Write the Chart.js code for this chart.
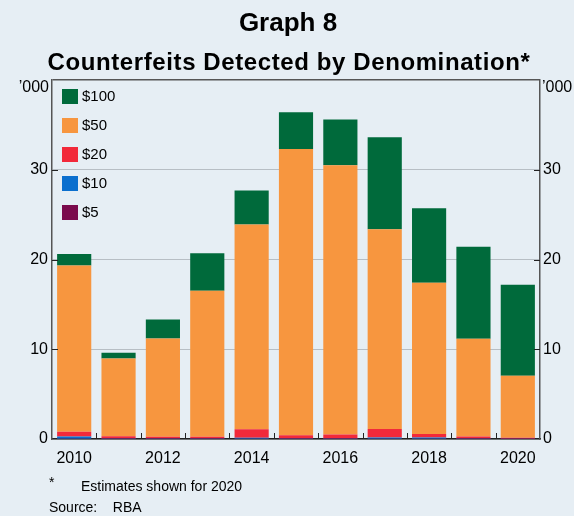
<!DOCTYPE html>
<html>
<head>
<meta charset="utf-8">
<script src="https://cdn.jsdelivr.net/npm/chart.js@4"></script>
<style>
  html, body { margin: 0; padding: 0; background: #e6eef4; }
  #wrap { position: relative; width: 574px; height: 516px; font-family: "Liberation Sans", Arial, sans-serif; color: #000; }
  #chart { position: absolute; left: 0; top: 0; }
  .title { position: absolute; left: 0; width: 574px; text-align: center; font-weight: bold; white-space: nowrap; }
  #t1 { top: 7px; font-size: 26px; left: 1px; }
  #t2 { top: 48px; font-size: 24px; left: 2px; letter-spacing: 0.6px; }
  .note { position: absolute; font-size: 14px; }
</style>
</head>
<body>
<div id="wrap">
  <canvas id="chart" width="574" height="516"></canvas>
  <div class="title" id="t1">Graph 8</div>
  <div class="title" id="t2">Counterfeits Detected by Denomination*</div>
  <div class="note" style="left:49px; top:474px;">*</div>
  <div class="note" style="left:81px; top:478px;">Estimates shown for 2020</div>
  <div class="note" style="left:49px; top:499px;">Source:&nbsp;&nbsp;&nbsp; RBA</div>
</div>
<script>
// thousands of counterfeits
const years = ['2010', '2011', '2012', '2013', '2014', '2015', '2016', '2017', '2018', '2019', '2020'];
const note5 = [0.02, 0.01, 0.01, 0.01, 0.02, 0.01, 0.01, 0.02, 0.02, 0.01, 0.01];
const note10 = [0.25, 0.05, 0.05, 0.05, 0.12, 0.05, 0.05, 0.15, 0.15, 0.05, 0.03];
const note20 = [0.55, 0.25, 0.2, 0.2, 0.95, 0.35, 0.45, 0.95, 0.4, 0.22, 0.1];
const note50 = [18.5, 8.65, 10.95, 16.25, 22.8, 31.9, 30.0, 22.25, 16.85, 10.9, 6.9];
const note100 = [1.3, 0.65, 2.1, 4.2, 3.8, 4.1, 5.1, 10.25, 8.3, 10.25, 10.15];
const yTicks = [0, 10, 20, 30, 40];
const unitLabel = '\u2019000';

const colors = {
  n100: '#006a3b',
  n50: '#f7963f',
  n20: '#f2293a',
  n10: '#0b6fce',
  n5: '#7a0a4c'
};

const axisColor = '#555';
const gridColor = '#b7bec4';
const font = { size: 16, family: '"Liberation Sans", Arial, sans-serif' };

// legend drawn inside the plot, top-left
const innerLegend = {
  id: 'innerLegend',
  afterDatasetsDraw(chart) {
    const ctx = chart.ctx;
    const area = chart.chartArea;
    const items = chart.data.datasets.slice().reverse();
    ctx.save();
    ctx.font = '15px "Liberation Sans", Arial, sans-serif';
    ctx.textBaseline = 'middle';
    items.forEach(function(ds, i) {
      const y = area.top + 17 + i * 29;
      ctx.fillStyle = ds.backgroundColor;
      ctx.fillRect(area.left + 10, y - 8, 16, 15);
      ctx.fillStyle = '#000';
      ctx.fillText(ds.label, area.left + 30, y);
    });
    ctx.restore();
  }
};

// short inward tick marks on the axes, plus the unit label at the top
const innerTicks = {
  id: 'innerTicks',
  afterDraw(chart) {
    const ctx = chart.ctx;
    const area = chart.chartArea;
    const x = chart.scales.x;
    const y = chart.scales.y;
    ctx.save();
    ctx.strokeStyle = '#222';
    ctx.lineWidth = 1;
    ctx.beginPath();
    for (let i = 1; i < years.length; i++) {
      const px = Math.round((x.getPixelForValue(i - 1) + x.getPixelForValue(i)) / 2) + 0.5;
      ctx.moveTo(px, area.bottom);
      ctx.lineTo(px, area.bottom - 6);
    }
    for (const v of yTicks.slice(1, -1)) {
      const py = Math.round(y.getPixelForValue(v)) + 0.5;
      ctx.moveTo(area.left, py);
      ctx.lineTo(area.left + 6, py);
      ctx.moveTo(area.right, py);
      ctx.lineTo(area.right - 6, py);
    }
    ctx.stroke();

    ctx.fillStyle = '#000';
    ctx.font = '16px "Liberation Sans", Arial, sans-serif';
    ctx.textBaseline = 'middle';
    ctx.textAlign = 'right';
    ctx.fillText(unitLabel, area.left - 3, area.top + 8);
    ctx.textAlign = 'left';
    ctx.fillText(unitLabel, area.right + 2, area.top + 8);
    ctx.restore();
  }
};

function tickLabel(value) {
  return value === 40 ? '' : value;
}

const chart = new Chart(document.getElementById('chart'), {
  type: 'bar',
  data: {
    labels: years,
    datasets: [
      { label: '$5', data: note5, backgroundColor: colors.n5 },
      { label: '$10', data: note10, backgroundColor: colors.n10 },
      { label: '$20', data: note20, backgroundColor: colors.n20 },
      { label: '$50', data: note50, backgroundColor: colors.n50 },
      { label: '$100', data: note100, backgroundColor: colors.n100 }
    ]
  },
  options: {
    responsive: false,
    animation: false,
    barPercentage: 1,
    categoryPercentage: 0.77,
    layout: { padding: { top: 80, bottom: 49, left: 0, right: 0 } },
    plugins: {
      legend: { display: false },
      tooltip: { enabled: false }
    },
    scales: {
      x: {
        stacked: true,
        grid: { display: false },
        border: { display: true, color: '#222', width: 1.5 },
        ticks: {
          color: '#000',
          font: font,
          maxRotation: 0,
          autoSkip: false,
          padding: 2,
          callback: function(val, i) { return i % 2 === 0 ? this.getLabelForValue(val) : ''; }
        },
        afterFit: function(scale) { scale.height = 28; }
      },
      y: {
        stacked: true,
        position: 'left',
        min: 0,
        max: 40,
        grid: {
          color: function(c) { return c.tick.value === 40 ? axisColor : gridColor; },
          lineWidth: function(c) { return c.tick.value === 40 ? 1.5 : 1; },
          drawTicks: false
        },
        border: { display: true, color: axisColor, width: 1.5 },
        ticks: {
          stepSize: 10,
          padding: 4,
          color: '#000',
          font: font,
          callback: tickLabel
        },
        afterFit: function(scale) { scale.width = 52; }
      },
      y2: {
        position: 'right',
        min: 0,
        max: 40,
        grid: { display: false, drawTicks: false },
        border: { display: true, color: axisColor, width: 1.5 },
        ticks: {
          stepSize: 10,
          padding: 3,
          color: '#000',
          font: font,
          callback: tickLabel
        },
        afterFit: function(scale) { scale.width = 34; }
      }
    }
  },
  plugins: [innerLegend, innerTicks]
});
</script>
</body>
</html>
